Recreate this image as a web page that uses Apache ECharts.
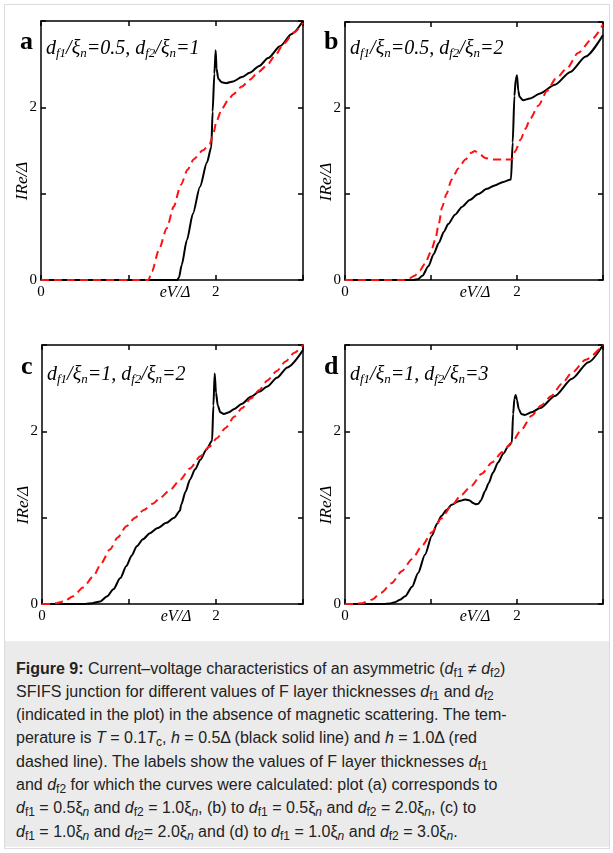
<!DOCTYPE html>
<html><head><meta charset="utf-8">
<script src="https://cdn.jsdelivr.net/npm/echarts@6/dist/echarts.min.js"></script>
<style>
html,body{margin:0;padding:0;background:#fff;}
#frame{position:absolute;left:4px;top:4px;width:604px;height:843px;border:1px solid #dcdcdc;}
#chart{position:absolute;left:0;top:0;width:613px;height:640px;}
#caption{position:absolute;left:5px;top:641px;width:604px;height:206px;background:#ebebeb;font-family:'Liberation Sans',Arial,sans-serif;font-size:16px;line-height:23.3px;color:#222;box-sizing:border-box;padding:15.5px 0 0 11px;white-space:nowrap;}
#caption .s{font-size:12px;vertical-align:-3px;line-height:0;}
#caption i{font-style:italic;}
</style></head>
<body>
<div id="frame"></div>
<div id="chart"></div>
<div id="caption">
<b>Figure 9:</b> Current–voltage characteristics of an asymmetric (<i>d</i><span class="s">f1</span> ≠ <i>d</i><span class="s">f2</span>)<br>
SFIFS junction for different values of F layer thicknesses <i>d</i><span class="s">f1</span> and <i>d</i><span class="s">f2</span><br>
(indicated in the plot) in the absence of magnetic scattering. The tem-<br>
perature is <i>T</i> = 0.1<i>T</i><span class="s">c</span>, <i>h</i> = 0.5Δ (black solid line) and <i>h</i> = 1.0Δ (red<br>
dashed line). The labels show the values of F layer thicknesses <i>d</i><span class="s">f1</span><br>
and <i>d</i><span class="s">f2</span> for which the curves were calculated: plot (a) corresponds to<br>
<i>d</i><span class="s">f1</span> = 0.5ξ<span class="s"><i>n</i></span> and <i>d</i><span class="s">f2</span> = 1.0ξ<span class="s"><i>n</i></span>, (b) to <i>d</i><span class="s">f1</span> = 0.5ξ<span class="s"><i>n</i></span> and <i>d</i><span class="s">f2</span> = 2.0ξ<span class="s"><i>n</i></span>, (c) to<br>
<i>d</i><span class="s">f1</span> = 1.0ξ<span class="s"><i>n</i></span> and <i>d</i><span class="s">f2</span>= 2.0ξ<span class="s"><i>n</i></span> and (d) to <i>d</i><span class="s">f1</span> = 1.0ξ<span class="s"><i>n</i></span> and <i>d</i><span class="s">f2</span> = 3.0ξ<span class="s"><i>n</i></span>.
</div>
<script>
// ---- data (eV/Δ, IRe/Δ) ----
const panelLetters = ['a', 'b', 'c', 'd'];
const df1Values = ['0.5', '0.5', '1', '1'];
const df2Values = ['1', '2', '2', '3'];
const xTickLabels = ['0', '', '2', ''];
const yTickLabels = ['0', '', '2', ''];

const aBlack = [[0,0],[1.56,0],[1.58,0.03],[1.61,0.17],[1.67,0.46],[1.74,0.77],[1.82,1.08],[1.90,1.36],[1.95,1.54],[1.965,1.95],[1.985,2.39],[2.0,2.66],[2.01,2.45],[2.03,2.33],[2.07,2.29],[2.12,2.28],[2.2,2.3],[2.3,2.35],[2.39,2.40],[2.5,2.48],[2.6,2.57],[2.74,2.71],[2.87,2.85],[3.0,3.0]];
const aRed = [[0,0],[1.23,0],[1.27,0.1],[1.35,0.35],[1.44,0.6],[1.52,0.85],[1.6,1.1],[1.68,1.28],[1.75,1.4],[1.85,1.5],[1.93,1.57],[1.97,1.68],[2.01,1.84],[2.07,1.98],[2.14,2.08],[2.2,2.15],[2.3,2.24],[2.39,2.32],[2.49,2.41],[2.59,2.49],[2.68,2.6],[2.78,2.74],[2.9,2.87],[3.0,2.98]];

const bBlack = [[0,0],[0.8,0],[0.85,0.01],[0.9,0.05],[0.97,0.16],[1.03,0.3],[1.09,0.43],[1.15,0.56],[1.2,0.65],[1.28,0.76],[1.36,0.85],[1.45,0.93],[1.55,1.0],[1.65,1.06],[1.74,1.1],[1.84,1.14],[1.93,1.17],[1.95,1.6],[1.97,2.14],[1.985,2.33],[2.0,2.38],[2.015,2.2],[2.03,2.13],[2.07,2.09],[2.15,2.11],[2.27,2.17],[2.44,2.27],[2.62,2.42],[2.8,2.6],[3.0,2.85]];
const bRed = [[0,0],[0.68,0],[0.75,0.02],[0.81,0.05],[0.87,0.11],[0.93,0.19],[1.0,0.33],[1.05,0.47],[1.09,0.65],[1.13,0.85],[1.18,1.0],[1.24,1.17],[1.32,1.3],[1.4,1.4],[1.47,1.48],[1.51,1.5],[1.57,1.46],[1.63,1.42],[1.72,1.4],[1.85,1.4],[1.94,1.4],[1.98,1.5],[2.04,1.63],[2.1,1.76],[2.15,1.87],[2.25,2.03],[2.35,2.2],[2.45,2.34],[2.58,2.46],[2.71,2.64],[2.87,2.8],[3.0,2.97]];

const cBlack = [[0,0],[0.5,0],[0.58,0.01],[0.67,0.03],[0.75,0.09],[0.82,0.17],[0.9,0.3],[0.97,0.44],[1.03,0.56],[1.09,0.67],[1.16,0.75],[1.24,0.82],[1.33,0.88],[1.43,0.94],[1.52,1.0],[1.585,1.08],[1.6,1.15],[1.65,1.3],[1.7,1.44],[1.76,1.56],[1.82,1.67],[1.89,1.79],[1.955,1.89],[1.97,2.3],[1.985,2.67],[2.0,2.45],[2.02,2.3],[2.05,2.22],[2.09,2.2],[2.15,2.22],[2.21,2.26],[2.3,2.32],[2.4,2.4],[2.5,2.46],[2.59,2.52],[2.7,2.62],[2.82,2.74],[3.0,2.94]];
const cRed = [[0,0],[0.1,0],[0.17,0.01],[0.25,0.03],[0.36,0.09],[0.47,0.19],[0.59,0.32],[0.68,0.47],[0.78,0.63],[0.87,0.77],[0.97,0.9],[1.07,1.0],[1.17,1.09],[1.27,1.16],[1.36,1.23],[1.47,1.32],[1.59,1.44],[1.7,1.57],[1.82,1.71],[1.92,1.82],[2.01,1.92],[2.11,2.04],[2.21,2.17],[2.3,2.27],[2.4,2.38],[2.5,2.48],[2.59,2.59],[2.7,2.7],[2.8,2.81],[2.9,2.91],[3.0,3.0]];

const dBlack = [[0,0],[0.45,0],[0.52,0.005],[0.58,0.02],[0.64,0.05],[0.7,0.09],[0.78,0.2],[0.85,0.36],[0.93,0.57],[1.01,0.79],[1.07,0.93],[1.12,1.02],[1.18,1.09],[1.24,1.15],[1.32,1.19],[1.4,1.21],[1.45,1.2],[1.49,1.17],[1.52,1.155],[1.55,1.16],[1.58,1.2],[1.63,1.31],[1.67,1.4],[1.72,1.52],[1.78,1.64],[1.84,1.74],[1.9,1.83],[1.94,1.87],[1.955,2.2],[1.97,2.38],[1.985,2.42],[2.0,2.36],[2.02,2.26],[2.05,2.2],[2.09,2.19],[2.17,2.22],[2.27,2.27],[2.44,2.41],[2.64,2.61],[2.83,2.8],[3.0,3.0]];
const dRed = [[0,0],[0.1,0],[0.2,0.01],[0.31,0.05],[0.42,0.13],[0.54,0.24],[0.66,0.38],[0.78,0.52],[0.9,0.68],[1.01,0.83],[1.12,0.99],[1.24,1.14],[1.35,1.26],[1.47,1.37],[1.59,1.51],[1.71,1.64],[1.83,1.76],[1.94,1.87],[2.05,2.02],[2.17,2.18],[2.28,2.3],[2.4,2.41],[2.52,2.55],[2.64,2.68],[2.8,2.83],[3.0,3.0]];

const blackSeries = [aBlack, bBlack, cBlack, dBlack];
const redSeries = [aRed, bRed, cRed, dRed];

// ---- layout ----
const grids = [
  {left: 41, top: 21, width: 262, height: 259},
  {left: 345, top: 22, width: 258, height: 258},
  {left: 42, top: 345, width: 261, height: 259},
  {left: 345, top: 345, width: 258, height: 259}
];
const SERIF = "'Liberation Serif','Times New Roman',serif";

const xAxes = [], yAxes = [], series = [], graphics = [];
grids.forEach((g, i) => {
  const base = {
    gridIndex: i, type: 'value', min: 0, max: 3, interval: 1,
    axisLine: {show: true, onZero: false, lineStyle: {color: '#000', width: 1.5}},
    axisTick: {show: true, inside: true, length: 5, lineStyle: {color: '#000', width: 1.5}},
    splitLine: {show: false}
  };
  const xLab = {show: true, margin: 5, color: '#000', fontFamily: SERIF, fontSize: 15,
    formatter: v => xTickLabels[Math.round(v)] || ''};
  const yLab = {show: true, margin: 4, color: '#000', fontFamily: SERIF, fontSize: 15,
    formatter: v => yTickLabels[Math.round(v)] || ''};
  xAxes.push(Object.assign({}, base, {position: 'bottom', axisLabel: xLab}));
  xAxes.push(Object.assign({}, base, {position: 'top', axisLabel: {show: false}}));
  yAxes.push(Object.assign({}, base, {position: 'left', axisLabel: yLab}));
  yAxes.push(Object.assign({}, base, {position: 'right', axisLabel: {show: false}}));

  series.push({type: 'line', xAxisIndex: 2 * i, yAxisIndex: 2 * i, data: blackSeries[i],
    showSymbol: false, smooth: 0.25, smoothMonotone: 'x', z: 3,
    lineStyle: {color: '#000', width: 2}});
  series.push({type: 'line', xAxisIndex: 2 * i, yAxisIndex: 2 * i, data: redSeries[i],
    showSymbol: false, smooth: 0.25, smoothMonotone: 'x', z: 4,
    lineStyle: {color: '#ff1010', width: 2, type: [8, 5]}});

  const top = g.top, left = g.left, bottom = g.top + g.height;
  graphics.push({type: 'text', x: left - 21, y: (i < 2 ? 42 : 367), style: {
    text: panelLetters[i], fontFamily: SERIF, fontWeight: 'bold', fontSize: 26,
    fill: '#000', verticalAlign: 'middle', align: 'left'}});
  graphics.push({type: 'text', x: left + 5, y: (i < 2 ? 48.5 : 374.5), style: {
    text: '{i|d}{s|f1}{i|/ξ}{s|n}{i|=' + df1Values[i] + ', d}{s|f2}{i|/ξ}{s|n}{i|=' + df2Values[i] + '}',
    verticalAlign: 'middle', align: 'left',
    rich: {
      i: {fontFamily: SERIF, fontStyle: 'italic', fontSize: 20, lineHeight: 24, verticalAlign: 'middle', color: '#000'},
      s: {fontFamily: SERIF, fontStyle: 'italic', fontSize: 13, lineHeight: 13, verticalAlign: 'bottom', color: '#000'}
    }}});
  graphics.push({type: 'text', x: left + (i % 2 === 0 ? 134 : 130), y: bottom + 13, style: {
    text: 'eV/Δ', fontFamily: SERIF, fontStyle: 'italic', fontSize: 16, fill: '#000',
    align: 'center', verticalAlign: 'middle'}});
  graphics.push({type: 'text', x: left - 18, y: top + 160, rotation: Math.PI / 2, style: {
    text: 'IRe/Δ', fontFamily: SERIF, fontStyle: 'italic', fontSize: 17, fill: '#000',
    align: 'center', verticalAlign: 'middle'}});
});

const chart = echarts.init(document.getElementById('chart'));
chart.setOption({
  animation: false,
  grid: grids.map(g => Object.assign({show: false}, g)),
  xAxis: xAxes,
  yAxis: yAxes,
  series: series,
  graphic: graphics
});
</script>
</body></html>
